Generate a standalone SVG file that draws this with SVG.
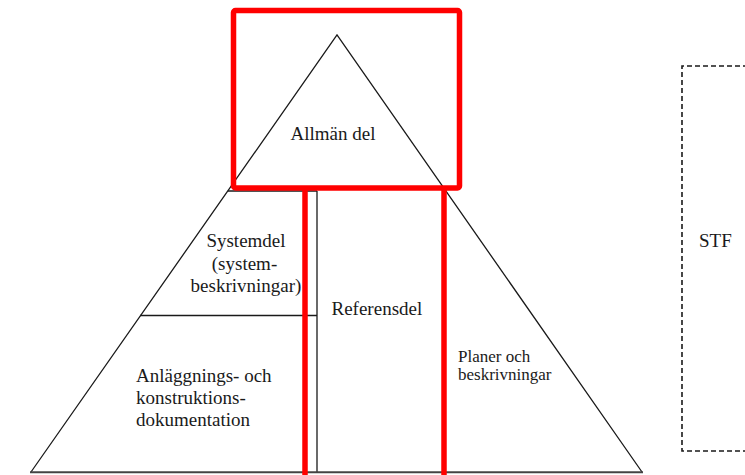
<svg xmlns="http://www.w3.org/2000/svg" width="745" height="475" viewBox="0 0 745 475">
<style>
.ln{stroke:#1a1a1a;stroke-width:1.3;fill:none}
.red{stroke:#ff0000;stroke-width:5.5;fill:none}
.t{font-family:"Liberation Serif","Times New Roman",serif;font-size:19px;fill:#1a1a1a}
.s{font-size:17px}
.dash{stroke:#1a1a1a;stroke-width:1.6;fill:none;stroke-dasharray:5 3}
</style>
<rect width="745" height="475" fill="#ffffff"/>
<g id="connectors">
<path class="ln" d="M31,472 L337,35 L642,472"/>
<path class="ln" d="M228,191 L317,191"/>
<path class="ln" d="M317,191 L317,472"/>
<path class="ln" d="M140,315.5 L317,315.5"/>
<path d="M30,472.3 L643,472.3" stroke="#444" stroke-width="2" fill="none"/>
</g>
<g id="allman-del">
<text class="t" x="333" y="140" text-anchor="middle">Allmän del</text>
</g>
<g id="systemdel">
<text class="t" x="246" y="247" text-anchor="middle">Systemdel</text>
<text class="t" x="244.5" y="269.5" text-anchor="middle">(system-</text>
<text class="t" x="246" y="291.5" text-anchor="middle">beskrivningar)</text>
</g>
<g id="anlaggning">
<text class="t" x="136" y="382">Anläggnings- och</text>
<text class="t" x="136" y="404">konstruktions-</text>
<text class="t" x="136" y="426">dokumentation</text>
</g>
<g id="referensdel">
<text class="t" x="331.5" y="315">Referensdel</text>
</g>
<g id="planer">
<text class="t s" x="458" y="361.5">Planer och</text>
<text class="t s" x="458" y="380">beskrivningar</text>
</g>
<g id="stf">
<path class="dash" d="M748,66 L682,66 L682,451 L748,451"/>
<text class="t" x="699" y="246.5">STF</text>
</g>
<g id="highlight">
<rect class="red" x="233.5" y="10.5" width="226" height="177.5" rx="2"/>
<path class="red" d="M305,188 L305,478"/>
<path class="red" d="M444,188 L444,478"/>
</g>
</svg>
